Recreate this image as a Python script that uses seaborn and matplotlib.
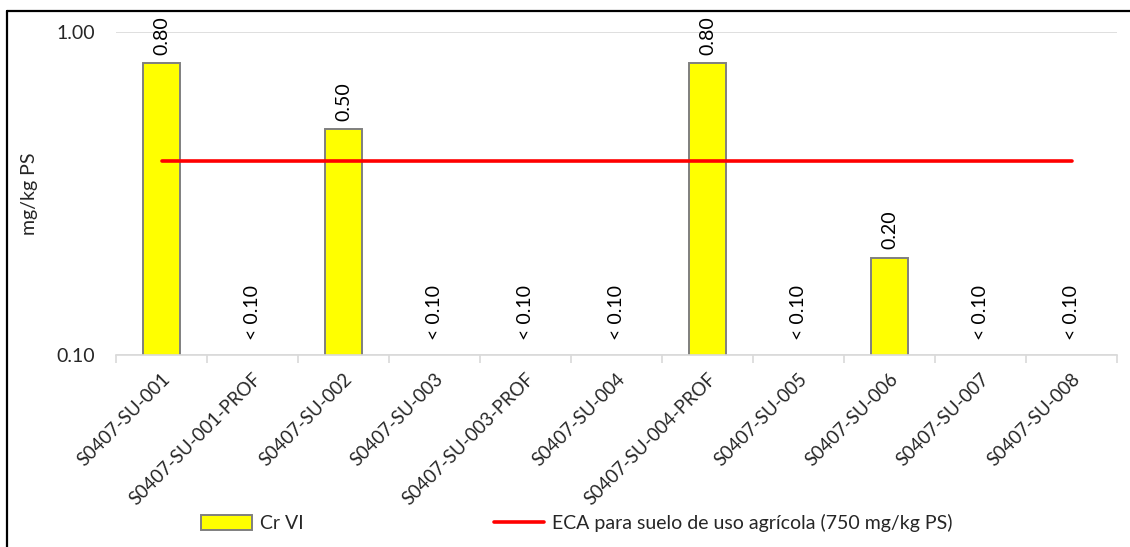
import numpy as np
import pandas as pd
import matplotlib
matplotlib.use("Agg")
import matplotlib.pyplot as plt
from matplotlib.lines import Line2D
from matplotlib.patches import Patch
import seaborn as sns

# Sample points and Cr VI results (mg/kg PS); NaN = below detection limit
samples = ["S0407-SU-001", "S0407-SU-001-PROF", "S0407-SU-002", "S0407-SU-003",
           "S0407-SU-003-PROF", "S0407-SU-004", "S0407-SU-004-PROF", "S0407-SU-005",
           "S0407-SU-006", "S0407-SU-007", "S0407-SU-008"]
cr_vi = [0.80, np.nan, 0.50, np.nan, np.nan, np.nan, 0.80, np.nan, 0.20, np.nan, np.nan]
value_labels = ["0.80", "< 0.10", "0.50", "< 0.10", "< 0.10", "< 0.10",
                "0.80", "< 0.10", "0.20", "< 0.10", "< 0.10"]
detection_limit = 0.10
eca_limit = 0.40
y_ticks = [0.10, 1.00]
y_tick_labels = ["0.10", "1.00"]
series_name = "Cr VI"
eca_name = "ECA para suelo de uso agrícola (750 mg/kg PS)"

sns.set_theme(style="white")
plt.rcParams["font.family"] = ["Lato", "DejaVu Sans"]
FS = 14
FS_X = 13.4

df = pd.DataFrame({"muestra": samples, "valor": cr_vi})

fig = plt.figure(figsize=(11.30, 5.47), dpi=100)
ax = fig.add_axes([116 / 1130, 1 - 355 / 547, (1117 - 116) / 1130, (355 - 32) / 547])
ax.set_yscale("log")

sns.barplot(data=df, x="muestra", y="valor", ax=ax, color="#FFFF00",
            edgecolor="#7F7F7F", linewidth=1.4, width=0.41, saturation=1)

x_pos = np.arange(len(samples))
sns.lineplot(x=x_pos, y=[eca_limit] * len(samples), ax=ax, color="#FF0000",
             linewidth=2.6, legend=False)

ax.set_ylim(0.1, 1.0)
ax.set_xlim(-0.5, len(samples) - 0.5)

# value labels above each bar (or above the baseline when below the limit)
for i, (v, lab) in enumerate(zip(cr_vi, value_labels)):
    if np.isnan(v):
        ax.annotate(lab, (i, detection_limit), xytext=(0, 11), textcoords="offset points",
                    rotation=90, ha="center", va="bottom", fontsize=FS, color="black")
    else:
        ax.annotate(lab, (i, v), xytext=(0, 6), textcoords="offset points",
                    rotation=90, ha="center", va="bottom", fontsize=FS, color="black")

# y axis
ax.yaxis.set_major_locator(matplotlib.ticker.FixedLocator(y_ticks))
ax.yaxis.set_minor_locator(matplotlib.ticker.NullLocator())
ax.set_yticklabels(y_tick_labels, fontsize=FS)
ax.tick_params(axis="y", length=0, pad=15)
ax.set_ylabel("mg/kg PS", fontsize=FS)
ax.yaxis.set_label_coords((38 - 116) / 1001, 0.5)
ax.grid(axis="y", which="major", color="#D9D9D9", linewidth=1.2)
ax.set_axisbelow(True)

# x axis: labels at category centres, tick marks at boundaries
ax.set_xticks(x_pos)
ax.set_xticklabels(samples, rotation=45, ha="right", rotation_mode="anchor", fontsize=FS_X)
ax.tick_params(axis="x", which="major", length=0, pad=11)
ax.set_xticks(np.arange(-0.5, len(samples)), minor=True)
ax.tick_params(axis="x", which="minor", length=6, width=1.2, color="#D9D9D9", bottom=True)
ax.set_xlabel("")

for s in ["top", "right", "left"]:
    ax.spines[s].set_visible(False)
ax.spines["bottom"].set_color("#D9D9D9")
ax.spines["bottom"].set_linewidth(1.2)

# legend
handles = [Patch(facecolor="#FFFF00", edgecolor="#7F7F7F", linewidth=1.4),
           Line2D([0], [0], color="#FF0000", linewidth=2.6)]
fig.legend(handles, [series_name, eca_name], loc="center", ncol=2,
           bbox_to_anchor=(577 / 1130, 1 - 523 / 547), frameon=False, fontsize=FS,
           handlelength=2.6, handleheight=0.8, handletextpad=0.4, columnspacing=9.8)

# outer frame (left and top edges)
fig.add_artist(Line2D([7 / 1130, 7 / 1130], [0, 1 - 11 / 547], color="black",
                      linewidth=1.6, transform=fig.transFigure))
fig.add_artist(Line2D([7 / 1130, 1], [1 - 11 / 547, 1 - 11 / 547], color="black",
                      linewidth=1.6, transform=fig.transFigure))

fig.savefig("out.png", dpi=100, facecolor="white")
